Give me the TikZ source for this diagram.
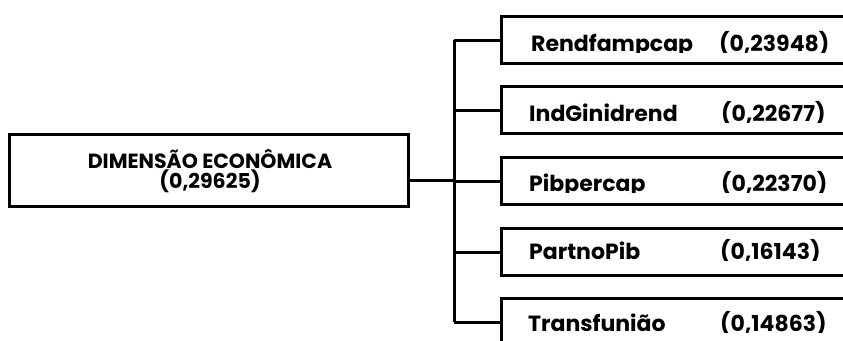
\documentclass[tikz,border=0pt]{standalone}
\usepackage{fontspec}
\setmainfont{Poppins}
\begin{document}
\begin{tikzpicture}[x=1pt,y=-1pt,
  line/.style={draw=black, line width=3pt},
  subbox/.style={draw=black, line width=3pt, rectangle, inner sep=0pt,
    minimum height=47pt, minimum width=370pt, anchor=north west},
  mainbox/.style={draw=black, line width=3pt, rectangle, inner sep=0pt,
    minimum height=72pt, minimum width=399pt, anchor=north west},
  lbl/.style={anchor=base west, inner sep=0pt, font=\bfseries\fontsize{22}{22}\selectfont},
  mainlbl/.style={anchor=base, inner sep=0pt, font=\bfseries\fontsize{20.5}{20.5}\selectfont}]
\useasboundingbox (0,0) rectangle (843,340);
\clip (0,0) rectangle (843,340);
% main box
\node[mainbox] (main) at (8,133) {};
\node[mainlbl] (mt1) at (210,168) {DIMENSÃO ECONÔMICA};
\node[mainlbl] (mt2) at (210,188) {(0,29625)};
% sub boxes
\node[subbox] (b1) at (500,15) {};
\node[subbox] (b2) at (500,85) {};
\node[subbox] (b3) at (500,156) {};
\node[subbox] (b4) at (500,227) {};
\node[subbox] (b5) at (500,297) {};
% texts, clipped just below the baseline
\begin{scope}
\clip (500,15) rectangle (843,52);
\node[lbl] (t1) at (531,51) {Rendfampcap};
\node[lbl] (v1) at (719,51) {(0,23948)};
\end{scope}
\begin{scope}
\clip (500,85) rectangle (843,122);
\node[lbl] (t2) at (529,121) {IndGinidrend};
\node[lbl] (v2) at (721,121) {(0,22677)};
\end{scope}
\begin{scope}
\clip (500,156) rectangle (843,192);
\node[lbl] (t3) at (529,191) {Pibpercap};
\node[lbl] (v3) at (721,191) {(0,22370)};
\end{scope}
\begin{scope}
\clip (500,227) rectangle (843,260);
\node[lbl] (t4) at (529,259) {PartnoPib};
\node[lbl] (v4) at (720,259) {(0,16143)};
\end{scope}
\begin{scope}
\clip (500,297) rectangle (843,332);
\node[lbl] (t5) at (528,331) {Transfunião};
\node[lbl] (v5) at (720,331) {(0,14863)};
\end{scope}
% connectors
\coordinate (j) at (454,180);
\draw[line] (main.east |- j) -- (j);
\draw[line] (b1.west -| j) -- (b5.west -| j);
\foreach \b in {b1,b2,b3,b4,b5}{
  \draw[line] (\b.west -| j) -- (\b.west);
}
\end{tikzpicture}
\end{document}
